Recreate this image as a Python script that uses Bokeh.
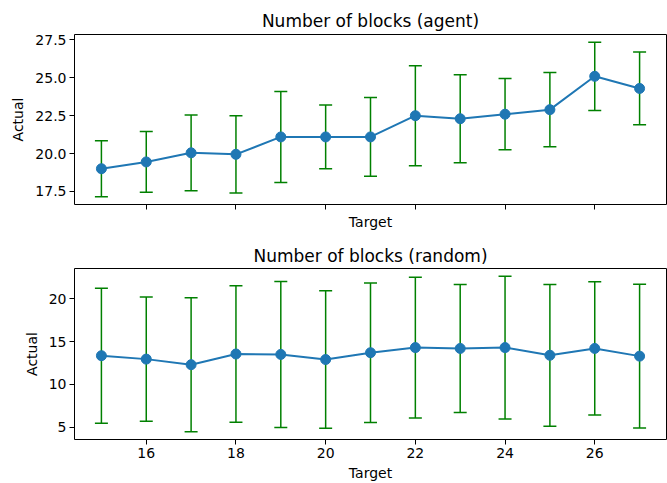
import numpy as np
from bokeh.plotting import figure
from bokeh.layouts import column
from bokeh.models import ColumnDataSource, Whisker, TeeHead, Range1d, FixedTicker, NumeralTickFormatter
from bokeh.embed import file_html
from bokeh.resources import INLINE

targets = [15, 16, 17, 18, 19, 20, 21, 22, 23, 24, 25, 26, 27]
agent_mean = [19.0, 19.45, 20.05, 19.95, 21.1, 21.1, 21.1, 22.5, 22.3, 22.6, 22.9, 25.1, 24.3]
agent_std = [1.85, 2.0, 2.5, 2.55, 3.0, 2.1, 2.6, 3.3, 2.9, 2.35, 2.45, 2.25, 2.4]
random_mean = [13.35, 12.95, 12.3, 13.55, 13.5, 12.9, 13.7, 14.3, 14.2, 14.3, 13.4, 14.2, 13.3]
random_std = [7.9, 7.27, 7.85, 8.0, 8.55, 8.05, 8.17, 8.25, 7.5, 8.35, 8.3, 7.8, 8.42]
x_ticks = [16, 18, 20, 22, 24, 26]
agent_yticks = [17.5, 20.0, 22.5, 25.0, 27.5]
random_yticks = [5, 10, 15, 20]

FONT = "DejaVu Sans"


def padded(lo, hi, frac=0.05):
    d = (hi - lo) * frac
    return lo - d, hi + d


def make(title, mean, std, yticks, yfmt, show_xlabels, height, bt, bb, standoff):
    x = np.array(targets, dtype=float)
    m = np.array(mean)
    s = np.array(std)
    src = ColumnDataSource(dict(x=x, y=m, upper=m + s, lower=m - s))
    x0, x1 = padded(x.min(), x.max())
    y0, y1 = padded((m - s).min(), (m + s).max())
    p = figure(width=667, height=height, output_backend="svg", toolbar_location=None,
               x_range=Range1d(x0, x1), y_range=Range1d(y0, y1),
               min_border_left=74, min_border_right=1, min_border_top=bt, min_border_bottom=bb)
    p.grid.visible = False
    p.outline_line_color = "black"
    p.outline_line_width = 1
    p.title.text = title
    p.title.text_font = FONT
    p.title.text_font_size = "17px"
    p.title.text_font_style = "normal"
    p.title.align = "center"
    p.title.text_color = "black"
    p.title.standoff = standoff
    for ax in (p.xaxis[0], p.yaxis[0]):
        ax.axis_line_color = None
        ax.minor_tick_line_color = None
        ax.major_tick_out = 5
        ax.major_tick_in = 0
        ax.major_tick_line_color = "black"
        ax.major_label_text_font = FONT
        ax.major_label_text_font_size = "14px"
        ax.major_label_text_color = "black"
        ax.major_label_standoff = 3
        ax.axis_label_text_font = FONT
        ax.axis_label_text_font_size = "14px"
        ax.axis_label_text_font_style = "normal"
        ax.axis_label_text_color = "black"
    p.xaxis.ticker = FixedTicker(ticks=x_ticks)
    p.yaxis.ticker = FixedTicker(ticks=yticks)
    p.yaxis.formatter = NumeralTickFormatter(format=yfmt)
    p.xaxis.axis_label = "Target"
    p.yaxis.axis_label = "Actual"
    p.yaxis.axis_label_standoff = 6
    if not show_xlabels:
        p.xaxis.major_label_overrides = {t: "" for t in x_ticks}
    p.xaxis.axis_label_standoff = 4
    w = Whisker(source=src, base="x", upper="upper", lower="lower", line_color="green", line_width=1.5,
                upper_head=TeeHead(size=13, line_color="green", line_width=1.5),
                lower_head=TeeHead(size=13, line_color="green", line_width=1.5))
    p.add_layout(w)
    p.line("x", "y", source=src, line_color="#1f77b4", line_width=2)
    p.scatter("x", "y", source=src, size=10, fill_color="#1f77b4", line_color="#1f77b4")
    return p


p1 = make("Number of blocks (agent)", agent_mean, agent_std, agent_yticks, "0.0", False, 240, 34, 36, 8)
p2 = make("Number of blocks (random)", random_mean, random_std, random_yticks, "0", True, 243, 28, 44, 5)

layout = column(p1, p2, spacing=0)
open("out.html", "w").write(file_html(layout, INLINE))
